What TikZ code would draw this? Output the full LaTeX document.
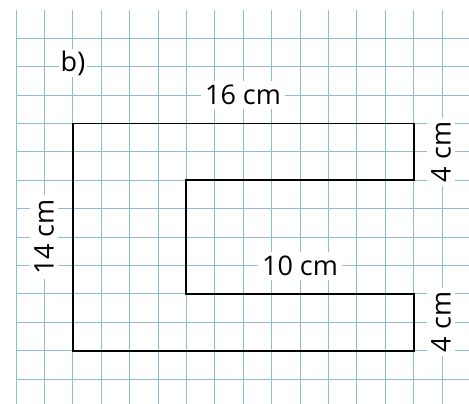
\documentclass[tikz,border=0pt]{standalone}
\usepackage{fontspec}
\setmainfont{Open Sans}
\definecolor{gridblue}{RGB}{140,188,216}
\begin{document}
\begin{tikzpicture}[x=1pt,y=-1pt,
  gridline/.style={gridblue,line width=0.9pt},
  shapeline/.style={black,line width=1.9pt,line join=miter},
  lbl/.style={fill=white,inner sep=4pt,font=\fontsize{27}{30}\selectfont},
  vlbl/.style={lbl,rotate=90}]
\useasboundingbox (0,0) rectangle (469,404);
\fill[white] (0,0) rectangle (469,404);
% grid
\foreach \k in {0,...,15}{
  \draw[gridline] (16+28.4*\k,10) -- (16+28.4*\k,404);
}
\foreach \k in {0,...,12}{
  \draw[gridline] (16,38.3+28.4*\k) -- (469,38.3+28.4*\k);
}
% shape corners
\coordinate (A) at (72.8,123.5);
\coordinate (B) at (413.6,123.5);
\coordinate (C) at (413.6,180.3);
\coordinate (D) at (186.4,180.3);
\coordinate (E) at (186.4,293.9);
\coordinate (F) at (413.6,293.9);
\coordinate (G) at (413.6,350.7);
\coordinate (H) at (72.8,350.7);
\draw[shapeline] (A) -- (B) -- (C) -- (D) -- (E) -- (F) -- (G) -- (H) -- cycle;
% labels
\node[lbl,inner sep=2pt] (b) at (73,63) {b)};
\node[lbl] (l16) at (243,95) {16 cm};
\node[vlbl] (l14) at (44,237) {14 cm};
\node[vlbl] (l4a) at (441,152) {4 cm};
\node[vlbl] (l4b) at (441,322) {4 cm};
\node[lbl] (l10) at (300,266) {10 cm};
\end{tikzpicture}
\end{document}
